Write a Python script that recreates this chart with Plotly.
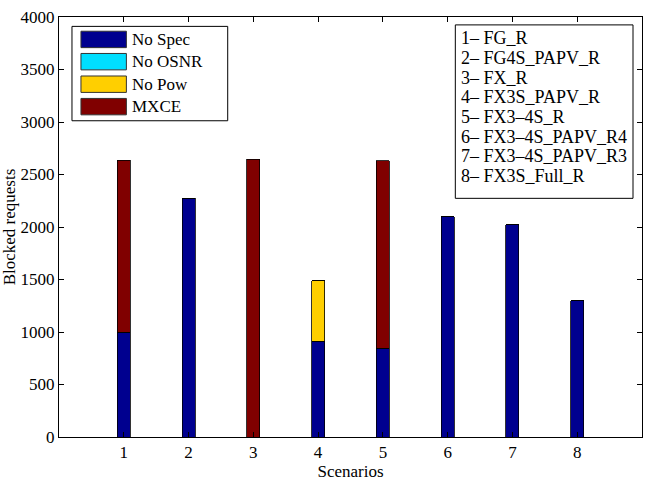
import plotly.graph_objects as go

scenarios = [1, 2, 3, 4, 5, 6, 7, 8]
no_spec = [1000, 2275, 0, 910, 845, 2100, 2020, 1300]
no_osnr = [0, 0, 0, 0, 0, 0, 0, 0]
no_pow = [0, 0, 0, 580, 0, 0, 0, 0]
mxce = [1635, 0, 2645, 0, 1785, 0, 0, 0]

series_names = ["No Spec", "No OSNR", "No Pow", "MXCE"]
series_colors = ["#00008F", "#00DFFF", "#FFCF00", "#800000"]
scenario_labels = ["1\u2013 FG_R", "2\u2013 FG4S_PAPV_R", "3\u2013 FX_R", "4\u2013 FX3S_PAPV_R",
                   "5\u2013 FX3\u20134S_R", "6\u2013 FX3\u20134S_PAPV_R4", "7\u2013 FX3\u20134S_PAPV_R3",
                   "8\u2013 FX3S_Full_R"]

FONT = "Liberation Serif, Times New Roman, serif"
FS = 17

fig = go.Figure()
for name, vals, col in zip(series_names, [no_spec, no_osnr, no_pow, mxce], series_colors):
    fig.add_trace(go.Bar(x=scenarios, y=vals, name=name, width=0.2,
                         marker=dict(color=col, line=dict(color="black", width=0.8)),
                         showlegend=False))

W, H = 651, 486
ml, mr, mt, mb = 59, 8, 12, 49
pw, ph = W - ml - mr, H - mt - mb

def px(x):
    return (x - ml) / pw

def py(y):
    return (H - mb - y) / ph

shapes = []
annotations = []
# legend box 1
shapes.append(dict(type="rect", xref="paper", yref="paper", x0=px(72), x1=px(228), y0=py(117), y1=py(21.5),
                   line=dict(color="black", width=1), fillcolor="white", layer="above"))
row_y = [34.7, 57.2, 80, 102.7]
for name, col, yc in zip(series_names, series_colors, row_y):
    shapes.append(dict(type="rect", xref="paper", yref="paper", x0=px(81), x1=px(126.5),
                       y0=py(yc + 8.3), y1=py(yc - 8.3), line=dict(color="#333333", width=1),
                       fillcolor=col, layer="above"))
    annotations.append(dict(x=px(130), y=py(yc), xref="paper", yref="paper", text=name,
                            showarrow=False, xanchor="left", yanchor="middle",
                            font=dict(family=FONT, size=FS, color="black")))
# legend box 2
shapes.append(dict(type="rect", xref="paper", yref="paper", x0=px(456), x1=px(634), y0=py(195.5), y1=py(20),
                   line=dict(color="black", width=1), fillcolor="white", layer="above"))
for i, lab in enumerate(scenario_labels):
    yc = 33.5 + i * 19.9
    annotations.append(dict(x=px(460), y=py(yc), xref="paper", yref="paper", text=lab,
                            showarrow=False, xanchor="left", yanchor="middle",
                            font=dict(family=FONT, size=18, color="black")))

fig.update_layout(
    width=W, height=H, barmode="stack",
    margin=dict(l=ml, r=mr, t=mt, b=mb),
    paper_bgcolor="white", plot_bgcolor="white",
    font=dict(family=FONT, size=FS, color="black"),
    shapes=shapes, annotations=annotations,
    xaxis=dict(range=[0, 9], tickvals=scenarios, ticktext=[str(s) for s in scenarios],
               ticks="inside", ticklen=5, tickcolor="black", showline=True, linecolor="black",
               linewidth=1, mirror="ticks", showgrid=False, zeroline=False,
               title=dict(text="Scenarios", standoff=1, font=dict(size=FS)),
               tickfont=dict(size=FS)),
    yaxis=dict(range=[0, 4000], tickvals=list(range(0, 4001, 500)),
               ticks="inside", ticklen=5, tickcolor="black", showline=True, linecolor="black",
               linewidth=1, mirror="ticks", showgrid=False, zeroline=False,
               title=dict(text="Blocked requests", standoff=1, font=dict(size=FS)),
               tickfont=dict(size=FS)),
)

fig.write_html("out.html")
